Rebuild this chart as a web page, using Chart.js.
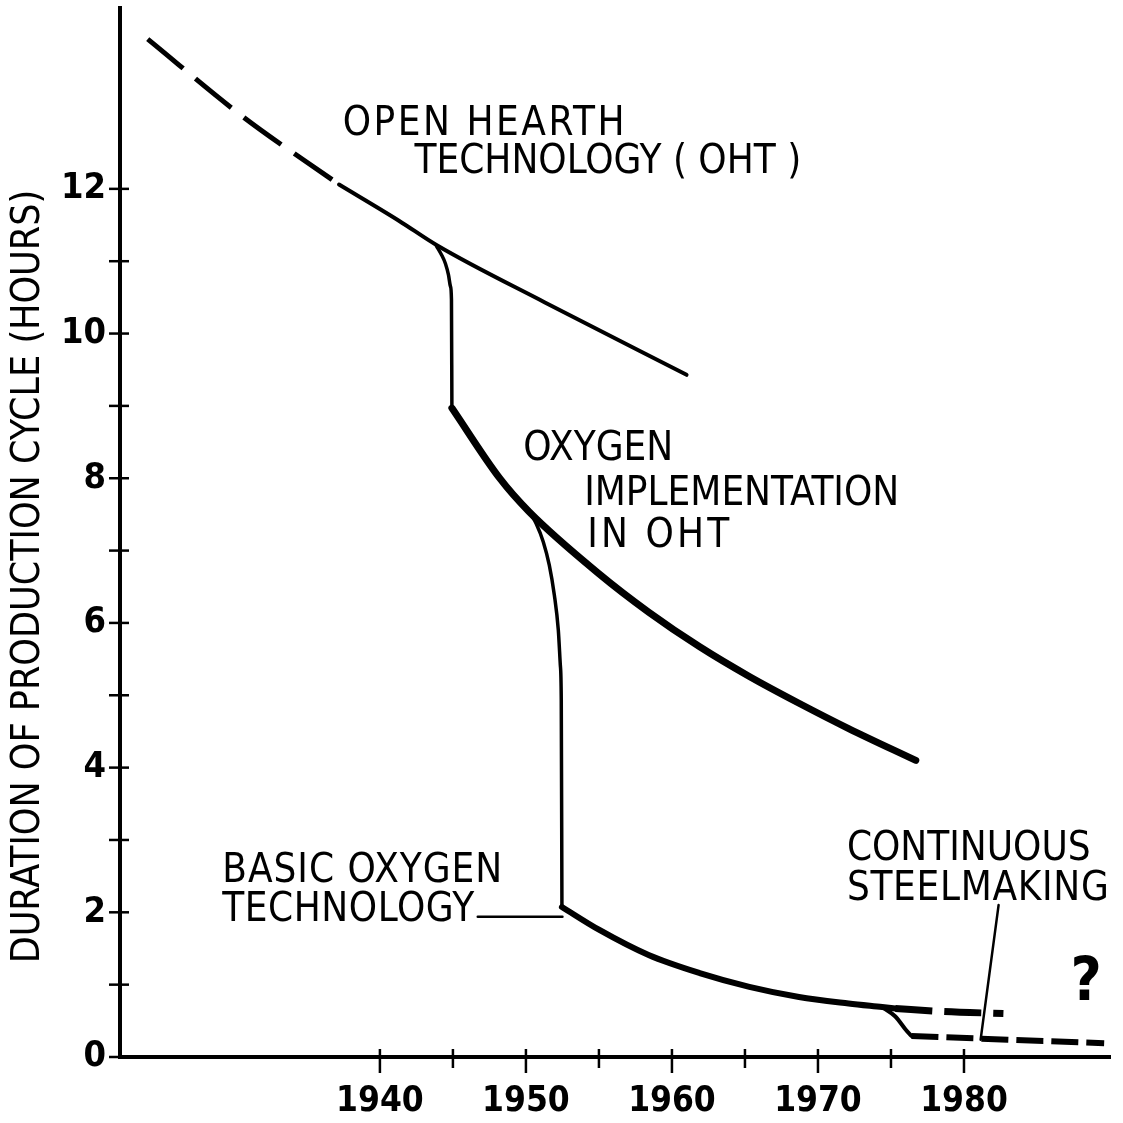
<!DOCTYPE html>
<html>
<head>
<meta charset="utf-8">
<title>Duration of production cycle</title>
<script src="https://cdn.jsdelivr.net/npm/chart.js@4.4.0/dist/chart.umd.min.js"></script>
<style>
  html, body { margin: 0; padding: 0; background: #fff; }
  #wrap { width: 1123px; height: 1123px; }
</style>
</head>
<body>
<div id="wrap"><canvas id="chart" width="1123" height="1123"></canvas></div>
<script>
// ---- values (year -> hours) ----
const yTicks = [0, 1, 2, 3, 4, 5, 6, 7, 8, 9, 10, 11, 12];
const xTicks = [1940, 1945, 1950, 1955, 1960, 1965, 1970, 1975, 1980];

// open hearth, early (dashed) and later (solid)
const ohtEarlyYears = [1924.1, 1930.6, 1937.2];
const ohtEarlyHours = [14.07, 13.0, 12.06];
const ohtYears = [1937.2, 1941.3, 1943.9, 1951.3, 1961.0];
const ohtHours = [12.06, 11.56, 11.22, 10.43, 9.43];

// drop from OHT to oxygen implementation
const dropOneYears = [1943.875, 1944.217, 1944.49, 1944.696, 1944.833, 1944.9, 1944.93];
const dropOneHours = [11.21, 11.09, 10.965, 10.81, 10.65, 10.47, 8.97];

// oxygen implementation in OHT
const oxyYears = [1944.93, 1948.2, 1950.2, 1955.0, 1958.4, 1961.9, 1965.3, 1968.7, 1972.1, 1976.7];
const oxyHours = [8.97, 8.0, 7.54, 6.68, 6.15, 5.67, 5.26, 4.89, 4.54, 4.10];

// drop from oxygen implementation to basic oxygen
const dropTwoYears = [1950.235, 1950.714, 1951.19, 1951.6, 1951.945, 1952.218, 1952.355, 1952.42, 1952.465];
const dropTwoHours = [7.535, 7.369, 7.12, 6.8, 6.387, 5.9, 5.42, 4.936, 2.074];

// basic oxygen technology
const botYears = [1952.465, 1955.0, 1958.4, 1961.9, 1965.3, 1968.7, 1972.1, 1974.4, 1975.3];
const botHours = [2.074, 1.76, 1.41, 1.16, 0.97, 0.83, 0.74, 0.69, 0.67];
const botLaterYears = [1975.3, 1978.5, 1982.7];
const botLaterHours = [0.67, 0.63, 0.6];

// drop to continuous steelmaking, then its (dashed) path
const dropThreeYears = [1974.4, 1975.3, 1976.0, 1976.4];
const dropThreeHours = [0.69, 0.56, 0.38, 0.29];
const csYears = [1976.4, 1983.0, 1989.6];
const csHours = [0.29, 0.24, 0.19];

// leader lines from labels to curves
const botLeaderYears = [1946.7, 1952.5];
const botLeaderHours = [1.94, 1.94];
const csLeaderYears = [1982.37, 1981.14];
const csLeaderHours = [2.1, 0.24];

const fontFamily = "'DejaVu Sans Condensed', 'Liberation Sans Narrow', sans-serif";
const labelFont = '40px ' + fontFamily;

// text notes on the plot (left edge, vertical centre, target width in px)
const notes = [
    { text: 'OPEN HEARTH', year: 1937.45, hours: 12.89, width: 282 },
    { text: 'TECHNOLOGY ( OHT )', year: 1942.37, hours: 12.36, width: 385 },
    { text: 'OXYGEN', year: 1949.82, hours: 8.39, width: 143 },
    { text: 'IMPLEMENTATION', year: 1953.99, hours: 7.77, width: 312 },
    { text: 'IN OHT', year: 1954.2, hours: 7.19, width: 142 },
    { text: 'BASIC OXYGEN', year: 1929.2, hours: 2.56, width: 280 },
    { text: 'TECHNOLOGY', year: 1929.2, hours: 2.03, width: 252 },
    { text: 'CONTINUOUS', year: 1971.98, hours: 2.86, width: 239 },
    { text: 'STEELMAKING', year: 1971.98, hours: 2.31, width: 262 },
    { text: '?', year: 1987.3, hours: 1.0, width: 0, font: 'bold 60px ' + fontFamily }
];
const yTitle = 'DURATION OF PRODUCTION CYCLE (HOURS)';

function points(xs, ys) {
    return xs.map((x, i) => ({ x: x, y: ys[i] }));
}

function series(xs, ys, width, dash, smooth) {
    return {
        data: points(xs, ys),
        borderColor: '#000',
        borderWidth: width,
        borderDash: dash || [],
        borderCapStyle: dash ? 'butt' : 'round',
        borderJoinStyle: 'round',
        pointRadius: 0,
        fill: false,
        cubicInterpolationMode: smooth ? 'monotone' : 'default',
        tension: 0
    };
}

// Crossing tick marks on both axes
const crossTicks = {
    id: 'crossTicks',
    afterDraw(chart) {
        const { ctx, scales: { x, y } } = chart;
        ctx.save();
        ctx.strokeStyle = '#000';
        ctx.lineWidth = 2.5;
        yTicks.forEach(v => {
            const py = y.getPixelForValue(v);
            ctx.beginPath();
            ctx.moveTo(x.left - 11, py);
            ctx.lineTo(x.left + 9, py);
            ctx.stroke();
        });
        xTicks.forEach(v => {
            const px = x.getPixelForValue(v);
            ctx.beginPath();
            ctx.moveTo(px, y.bottom - 8);
            ctx.lineTo(px, y.bottom + (v % 10 === 0 ? 16 : 11));
            ctx.stroke();
        });
        ctx.restore();
    }
};

// Labels with letter spacing, and the rotated y title
const noteLabels = {
    id: 'noteLabels',
    afterDatasetsDraw(chart) {
        const { ctx, scales: { x, y } } = chart;
        ctx.save();
        ctx.fillStyle = '#000';
        ctx.textBaseline = 'middle';
        ctx.textAlign = 'left';
        notes.forEach(n => {
            ctx.font = n.font || labelFont;
            ctx.letterSpacing = '0px';
            const w = ctx.measureText(n.text).width;
            const gap = n.text.length > 1 ? Math.max(0, (n.width - w) / (n.text.length - 1)) : 0;
            ctx.letterSpacing = gap + 'px';
            ctx.fillText(n.text, x.getPixelForValue(n.year), y.getPixelForValue(n.hours));
        });

        // y axis title
        ctx.letterSpacing = '0px';
        ctx.font = '39px ' + fontFamily;
        ctx.textAlign = 'center';
        ctx.translate(x.left - 91, y.getPixelForValue(6.64));
        ctx.rotate(-Math.PI / 2);
        ctx.fillText(yTitle, 0, 0);
        ctx.restore();
    }
};

new Chart(document.getElementById('chart'), {
    type: 'line',
    data: {
        datasets: [
            series(ohtEarlyYears, ohtEarlyHours, 5, [46, 16], true),
            series(ohtYears, ohtHours, 4, null, true),
            series(dropOneYears, dropOneHours, 3.5, null, true),
            series(oxyYears, oxyHours, 7, null, true),
            series(dropTwoYears, dropTwoHours, 3.5, null, true),
            series(botYears, botHours, 6, null, true),
            series(botLaterYears, botLaterHours, 7, [37, 12], true),
            series(dropThreeYears, dropThreeHours, 4, null, true),
            series(csYears, csHours, 6, [27, 8], true),
            series(botLeaderYears, botLeaderHours, 2.5, null, false),
            series(csLeaderYears, csLeaderHours, 2.5, null, false)
        ]
    },
    options: {
        responsive: false,
        animation: false,
        layout: { padding: { top: 8, right: 13, left: 0, bottom: 0 } },
        plugins: {
            legend: { display: false },
            tooltip: { enabled: false }
        },
        scales: {
            x: {
                type: 'linear',
                min: 1922.2,
                max: 1990,
                afterBuildTicks: s => { s.ticks = xTicks.map(v => ({ value: v })); },
                afterFit: s => { s.height = 66; s.paddingLeft = 0; s.paddingRight = 0; },
                grid: { display: false, drawTicks: false },
                border: { display: true, color: '#000', width: 4 },
                ticks: {
                    color: '#000',
                    padding: 24,
                    maxRotation: 0,
                    autoSkip: false,
                    font: { family: fontFamily, size: 35, weight: 'bold' },
                    callback: v => (v % 10 === 0 ? String(v) : '')
                }
            },
            y: {
                type: 'linear',
                min: 0,
                max: 14.5,
                afterBuildTicks: s => { s.ticks = yTicks.map(v => ({ value: v })); },
                afterFit: s => { s.width = 120; s.paddingTop = 0; s.paddingBottom = 0; },
                grid: { display: false, drawTicks: false },
                border: { display: true, color: '#000', width: 4 },
                ticks: {
                    color: '#000',
                    padding: 14,
                    autoSkip: false,
                    font: { family: fontFamily, size: 36, weight: 'bold' },
                    callback: v => (v % 2 === 0 ? String(v) : '')
                }
            }
        }
    },
    plugins: [crossTicks, noteLabels]
});
</script>
</body>
</html>
